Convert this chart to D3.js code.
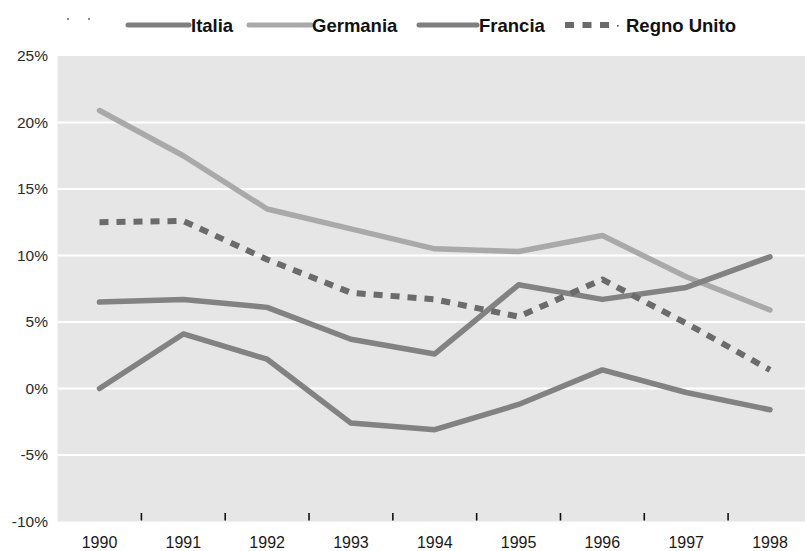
<!DOCTYPE html>
<html>
<head>
<meta charset="utf-8">
<script src="https://cdn.jsdelivr.net/npm/d3@7"></script>
<style>
  html, body { margin: 0; padding: 0; background: #ffffff; }
  svg { display: block; }
</style>
</head>
<body>
<svg id="chart" width="805" height="551"></svg>
<script>
const years = ["1990","1991","1992","1993","1994","1995","1996","1997","1998"];
const italia = [0.0, 4.1, 2.2, -2.6, -3.1, -1.2, 1.4, -0.3, -1.6];
const germania = [20.9, 17.5, 13.5, 12.0, 10.5, 10.3, 11.5, 8.4, 5.9];
const francia = [6.5, 6.7, 6.1, 3.7, 2.6, 7.8, 6.7, 7.6, 9.9];
const regnoUnito = [12.5, 12.6, 9.7, 7.2, 6.7, 5.4, 8.2, 4.9, 1.4];
const yTicks = [-10, -5, 0, 5, 10, 15, 20, 25];
const seriesNames = ["Italia", "Germania", "Francia", "Regno Unito"];

const svg = d3.select("#chart");
const plot = { left: 57.5, right: 805, top: 56, bottom: 521.5 };

const x = d3.scaleBand().domain(years).range([57.6, 811.9]).padding(0);
const xc = d => x(d) + x.bandwidth() / 2;
const y = d3.scaleLinear().domain([-10, 25]).range([plot.bottom, plot.top]);

// background
svg.append("rect")
  .attr("x", plot.left).attr("y", plot.top)
  .attr("width", plot.right - plot.left).attr("height", plot.bottom - plot.top)
  .attr("fill", "#e6e6e6");

// gridlines
svg.append("g").selectAll("line")
  .data(yTicks.filter(t => t > -10 && t < 25))
  .join("line")
  .attr("x1", plot.left).attr("x2", plot.right)
  .attr("y1", d => y(d)).attr("y2", d => y(d))
  .attr("stroke", "#ffffff").attr("stroke-width", 2);

// y axis labels
const yAxis = d3.axisLeft(y).tickValues(yTicks).tickSize(0).tickPadding(0)
  .tickFormat(d => d + "%");
svg.append("g").attr("transform", "translate(48,0)").call(yAxis)
  .call(g => g.select(".domain").remove())
  .call(g => g.selectAll("text")
    .attr("font-family", "'Liberation Sans', Arial, sans-serif")
    .attr("font-size", 15.5).attr("fill", "#2a2a2a"));

// x axis labels
const xAxis = d3.axisBottom(x).tickSize(0).tickPadding(0);
svg.append("g").attr("transform", "translate(0,537)").call(xAxis)
  .call(g => g.select(".domain").remove())
  .call(g => g.selectAll("text")
    .attr("font-family", "'Liberation Sans', Arial, sans-serif")
    .attr("font-size", 16).attr("fill", "#1a1a1a"));

// x ticks between categories
svg.append("g").selectAll("line")
  .data(years.slice(0, -1))
  .join("line")
  .attr("x1", d => x(d) + x.bandwidth()).attr("x2", d => x(d) + x.bandwidth())
  .attr("y1", 513).attr("y2", 520.5)
  .attr("stroke", "#111").attr("stroke-width", 1.6);

const line = d3.line().x((d, i) => xc(years[i])).y(d => y(d));

const series = [
  { name: "Germania", values: germania, color: "#a9a9a9", dash: null, width: 5.5 },
  { name: "Francia", values: francia, color: "#828282", dash: null, width: 5.5 },
  { name: "Italia", values: italia, color: "#828282", dash: null, width: 5.5 },
  { name: "Regno Unito", values: regnoUnito, color: "#6b6b6b", dash: "9,8", width: 6 }
];

svg.append("g").selectAll("path")
  .data(series)
  .join("path")
  .attr("d", d => line(d.values))
  .attr("fill", "none")
  .attr("stroke", d => d.color)
  .attr("stroke-width", d => d.width)
  .attr("stroke-linejoin", "round")
  .attr("stroke-linecap", d => d.dash ? "butt" : "round")
  .attr("stroke-dasharray", d => d.dash);

// legend
const leg = svg.append("g");
leg.selectAll("rect.dot").data([68, 89]).join("rect")
  .attr("class", "dot").attr("x", d => d - 1).attr("y", 18).attr("width", 2).attr("height", 2)
  .attr("fill", "#8a8a8a");

const legendItems = [
  { name: seriesNames[0], x1: 128, x2: 189, tx: 191, color: "#7f7f7f", dash: null },
  { name: seriesNames[1], x1: 249, x2: 311, tx: 312, color: "#a9a9a9", dash: null },
  { name: seriesNames[2], x1: 419, x2: 477, tx: 479, color: "#7f7f7f", dash: null },
  { name: seriesNames[3], x1: 565, x2: 610, tx: 626, color: "#6b6b6b", dash: "9,8.5" }
];
leg.selectAll("line.item").data(legendItems).join("line")
  .attr("class", "item")
  .attr("x1", d => d.x1).attr("x2", d => d.x2)
  .attr("y1", 25).attr("y2", 25)
  .attr("stroke", d => d.color)
  .attr("stroke-width", d => d.dash ? 6 : 5)
  .attr("stroke-linecap", d => d.dash ? "butt" : "round")
  .attr("stroke-dasharray", d => d.dash);
leg.append("rect").attr("x", 617).attr("y", 25).attr("width", 1.6).attr("height", 1.6).attr("fill", "#555");
leg.selectAll("text").data(legendItems).join("text")
  .attr("x", d => d.tx).attr("y", 32)
  .attr("font-family", "'Liberation Sans', Arial, sans-serif")
  .attr("font-size", 18.5).attr("font-weight", "bold")
  .attr("fill", "#111")
  .text(d => d.name);
</script>
</body>
</html>
